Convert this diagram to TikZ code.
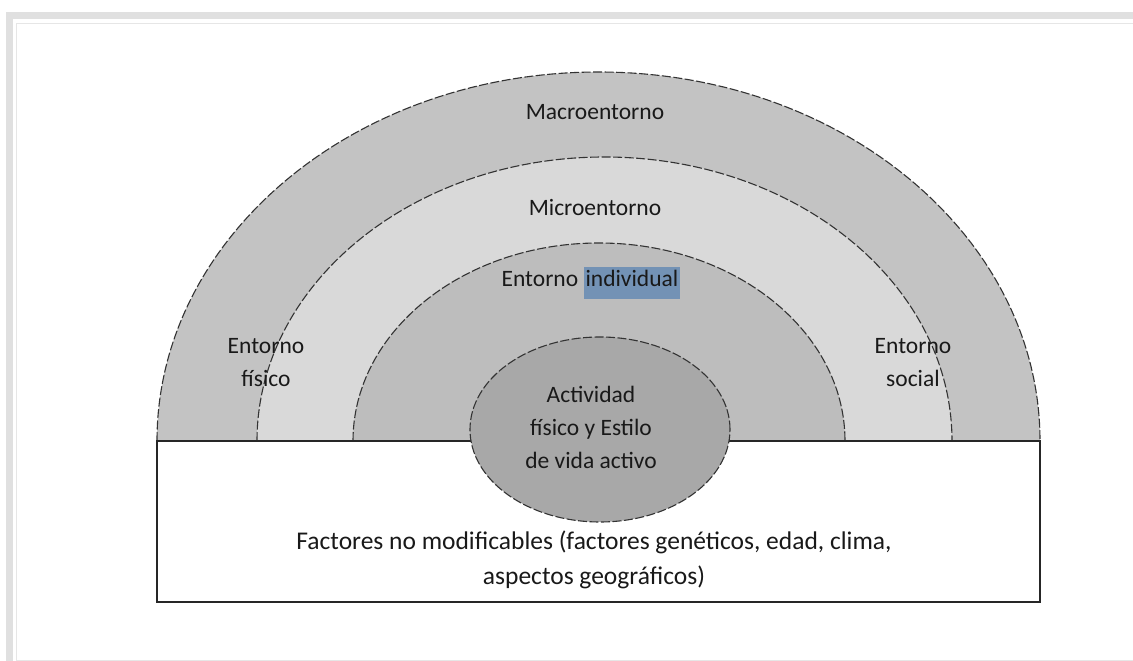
\documentclass[tikz,border=0pt]{standalone}
\usepackage{fontspec}
\setmainfont{Carlito}
\usetikzlibrary{positioning}
\definecolor{macro}{HTML}{C3C3C3}
\definecolor{micro}{HTML}{D9D9D9}
\definecolor{indiv}{HTML}{BDBDBD}
\definecolor{nucleo}{HTML}{A8A8A8}
\definecolor{marco}{HTML}{E0E0E0}
\definecolor{hlblue}{HTML}{7392B5}
\tikzset{
  arcline/.style={draw=black!80,line width=1.1pt,dash pattern=on 9pt off 2.5pt},
  rotulo/.style={font=\fontsize{23.5}{33}\selectfont,text=black!90,align=center,inner sep=0pt},
}
\begin{document}
\begin{tikzpicture}[x=1pt,y=1pt]
  \useasboundingbox (0,0) rectangle (1133,661);
  % marco de la figura
  \fill[marco] (6,642) rectangle (1133,649);
  \fill[marco] (6,0) rectangle (13,649);
  \draw[marco!80,line width=0.8pt] (16,0) -- (16,638) -- (1133,638);
  \draw[marco!80,line width=0.8pt] (16,1) -- (1133,1);
  % semielipses
  \fill[macro] (157,220) arc[start angle=180,end angle=0,x radius=441.5,y radius=369] -- cycle;
  \draw[arcline] (157,220) arc[start angle=180,end angle=0,x radius=441.5,y radius=369];
  \fill[micro] (257,220) arc[start angle=180,end angle=0,x radius=347.5,y radius=284] -- cycle;
  \draw[arcline] (257,220) arc[start angle=180,end angle=0,x radius=347.5,y radius=284];
  \fill[indiv] (353,220) arc[start angle=180,end angle=0,x radius=246,y radius=198] -- cycle;
  \draw[arcline] (353,220) arc[start angle=180,end angle=0,x radius=246,y radius=198];
  % factores no modificables
  \draw[fill=white,line width=1.4pt,draw=black!85] (157,59) rectangle (1040,220);
  \fill[nucleo] (600,231.5) ellipse[x radius=130,y radius=92.5];
  \draw[arcline] (600,231.5) ellipse[x radius=130,y radius=92.5];
  % textos
  \node[rotulo] (macroent) at (595,549) {Macroentorno};
  \node[rotulo] (microent) at (595,453) {Microentorno};
  \node[rotulo] (indivent) at (591,378) {Entorno {\setlength\fboxsep{2pt}\colorbox{hlblue}{\rule[-10pt]{0pt}{28pt}individual}}};
  \node[rotulo] (fisico) at (266,298) {Entorno\\físico};
  \node[rotulo] (social) at (913,298) {Entorno\\social};
  \node[rotulo] (actividad) at (591,234) {Actividad\\físico y Estilo\\de vida activo};
  \node[rotulo,font=\fontsize{25.5}{35}\selectfont] (factores) at (594,101.5) {Factores no modificables (factores genéticos, edad, clima,\\aspectos geográficos)};
\end{tikzpicture}
\end{document}
